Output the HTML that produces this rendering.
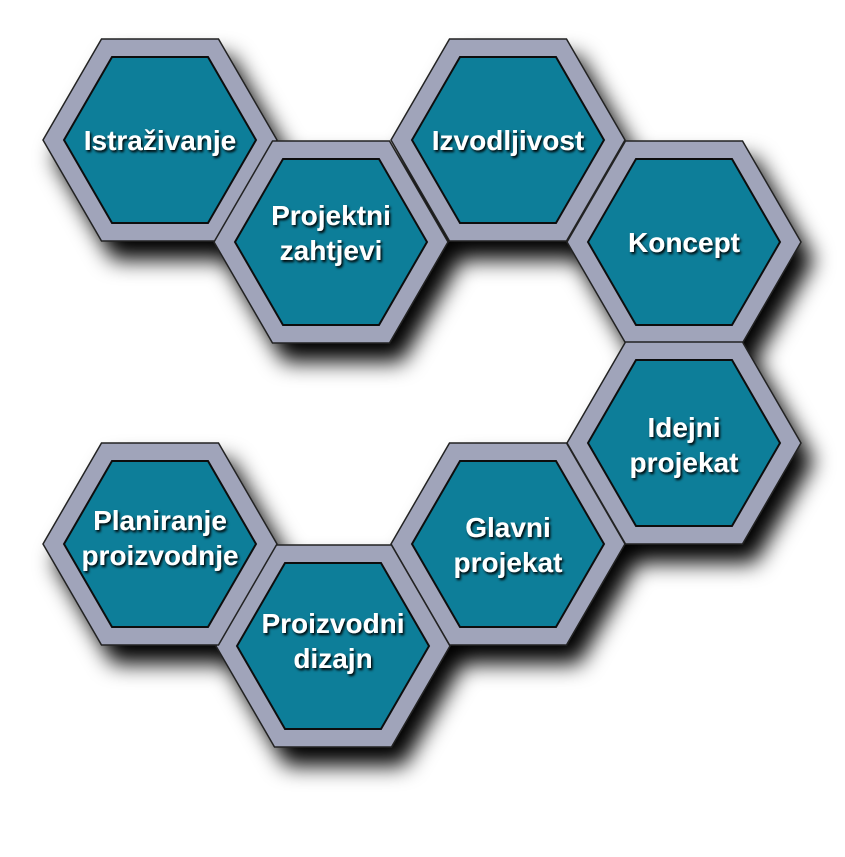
<!DOCTYPE html>
<html><head><meta charset="utf-8"><style>
html,body{margin:0;padding:0;background:#fff;}
svg{display:block}
text{font-family:"Liberation Sans",Arial,sans-serif;font-size:28px;font-weight:bold;fill:#fff;text-anchor:middle;}
</style></head><body>
<svg width="845" height="857" viewBox="0 0 845 857" xmlns="http://www.w3.org/2000/svg">
<defs>
<filter id="sh" x="-30%" y="-30%" width="160%" height="160%">
<feGaussianBlur in="SourceAlpha" stdDeviation="11"/>
<feOffset dx="12" dy="18" result="b"/>
<feComponentTransfer><feFuncA type="linear" slope="1"/></feComponentTransfer>
<feMerge><feMergeNode/><feMergeNode in="SourceGraphic"/></feMerge>
</filter>
<filter id="ts" x="-10%" y="-30%" width="120%" height="160%">
<feGaussianBlur in="SourceAlpha" stdDeviation="1.2"/>
<feOffset dx="1.5" dy="2"/>
<feMerge><feMergeNode/><feMergeNode in="SourceGraphic"/></feMerge>
</filter>
<g id="hx">
<polygon points="-117,0 -58.5,-101 58.5,-101 117,0 58.5,101 -58.5,101" fill="#a0a4ba" stroke="#222" stroke-width="1.5"/>
<polygon points="-96,0 -48,-83 48,-83 96,0 48,83 -48,83" fill="#077e99" stroke="#111" stroke-width="2"/>
</g>
</defs>
<g filter="url(#sh)">
<use href="#hx" x="160" y="140"/>
<use href="#hx" x="331" y="242"/>
<use href="#hx" x="508" y="140"/>
<use href="#hx" x="684" y="242"/>
<use href="#hx" x="684" y="443"/>
<use href="#hx" x="508" y="544"/>
<use href="#hx" x="333" y="646"/>
<use href="#hx" x="160" y="544"/>
</g>
<g filter="url(#ts)">
<text x="160" y="150">Istraživanje</text>
<text x="331" y="225">Projektni</text><text x="331" y="260">zahtjevi</text>
<text x="508" y="150">Izvodljivost</text>
<text x="684" y="252">Koncept</text>
<text x="684" y="437">Idejni</text><text x="684" y="472">projekat</text>
<text x="508" y="537">Glavni</text><text x="508" y="572">projekat</text>
<text x="333" y="633">Proizvodni</text><text x="333" y="668">dizajn</text>
<text x="160" y="530">Planiranje</text><text x="160" y="565">proizvodnje</text>
</g>
</svg>
</body></html>
